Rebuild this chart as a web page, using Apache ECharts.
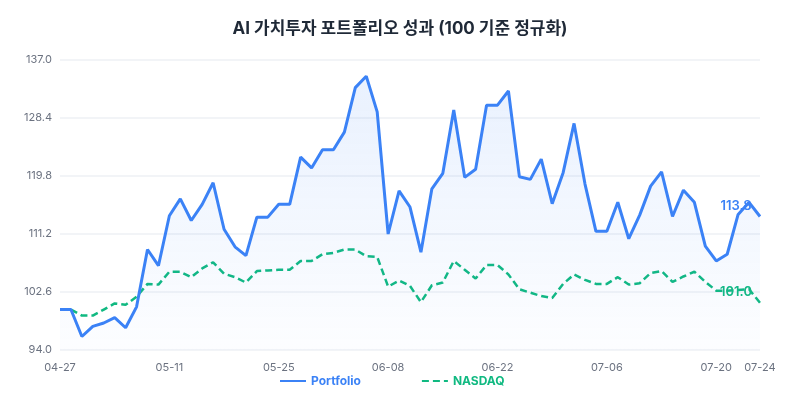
<!DOCTYPE html>
<html>
<head>
<meta charset="utf-8">
<script src="https://cdn.jsdelivr.net/npm/echarts@6/dist/echarts.min.js"></script>
<style>
  html, body { margin: 0; padding: 0; background: #fff; }
  #chart { width: 800px; height: 400px; }
</style>
</head>
<body>
<div id="chart"></div>
<script>
// 영업일 기준 날짜
const dates = [
  '04-27', '04-28', '04-29', '04-30', '05-01',
  '05-04', '05-05', '05-06', '05-07', '05-08',
  '05-11', '05-12', '05-13', '05-14', '05-15',
  '05-18', '05-19', '05-20', '05-21', '05-22',
  '05-25', '05-26', '05-27', '05-28', '05-29',
  '06-01', '06-02', '06-03', '06-04', '06-05',
  '06-08', '06-09', '06-10', '06-11', '06-12',
  '06-15', '06-16', '06-17', '06-18', '06-19',
  '06-22', '06-23', '06-24', '06-25', '06-26',
  '06-29', '06-30', '07-01', '07-02', '07-03',
  '07-06', '07-07', '07-08', '07-09', '07-10',
  '07-13', '07-14', '07-15', '07-16', '07-17',
  '07-20', '07-21', '07-22', '07-23', '07-24'
]

const portfolio = [
  100.0, 100.0, 96.0, 97.5, 98.0, 98.8, 97.3, 100.4, 108.9, 106.5,
  113.9, 116.4, 113.2, 115.6, 118.8, 111.9, 109.3, 108.0, 113.7, 113.7,
  115.6, 115.6, 122.6, 121.0, 123.7, 123.7, 126.3, 132.9, 134.6, 129.3,
  111.2, 117.6, 115.2, 108.5, 117.9, 120.2, 129.6, 119.6, 120.8, 130.3,
  130.3, 132.4, 119.7, 119.3, 122.3, 115.7, 120.3, 127.6, 118.6, 111.6,
  111.6, 115.9, 110.5, 114.0, 118.3, 120.4, 113.8, 117.7, 115.9, 109.4,
  107.2, 108.2, 114.1, 115.9, 113.8
]

const nasdaq = [
  100.0, 100.0, 99.1, 99.1, 100.0, 100.9, 100.7, 101.9, 103.8, 103.7,
  105.6, 105.6, 104.8, 106.1, 107.0, 105.3, 104.8, 104.0, 105.7, 105.8,
  105.9, 105.9, 107.2, 107.2, 108.2, 108.4, 108.9, 108.9, 107.9, 107.8,
  103.4, 104.3, 103.5, 101.1, 103.6, 104.0, 107.2, 105.9, 104.6, 106.6,
  106.6, 105.2, 103.0, 102.5, 102.0, 101.7, 103.8, 105.2, 104.4, 103.8,
  103.8, 104.8, 103.7, 103.9, 105.4, 105.7, 104.1, 104.9, 105.6, 104.1,
  102.8, 102.8, 102.9, 103.0, 101.0
]

const yMin = 94.0
const yMax = 137.0
const yStep = 8.6

const BLUE = '#3b82f6'
const GREEN = '#10b981'
const FONT = 'Inter, "Noto Sans CJK KR", sans-serif'

// 마지막 점에만 값 라벨 표시 (나머지는 심볼 없음)
function withLastLabel(arr, color) {
  const last = arr.length - 1
  return arr.map((v, i) => i !== last ? v : {
    value: v,
    symbol: 'circle',
    symbolSize: 0.1,
    label: {
      show: true,
      position: 'top',
      distance: 4,
      offset: [-24, 0],
      color: color,
      fontSize: 13,
      fontWeight: 600,
      fontFamily: FONT,
      formatter: p => p.value.toFixed(1)
    }
  })
}

const chart = echarts.init(document.getElementById('chart'))
chart.setOption({
  animation: false,
  title: {
    text: 'AI 가치투자 포트폴리오 성과 (100 기준 정규화)',
    left: 'center',
    top: 15,
    textStyle: { fontSize: 17, fontWeight: 'bold', color: '#1f2937', fontFamily: FONT }
  },
  grid: { left: 60, right: 40, top: 60, bottom: 50 },
  legend: {
    left: 274,
    bottom: 8,
    itemWidth: 26,
    itemHeight: 10,
    itemGap: 60,
    itemStyle: { opacity: 0 },
    textStyle: { fontSize: 12, fontWeight: 'bold', fontFamily: FONT },
    data: [
      { name: 'Portfolio', textStyle: { color: BLUE } },
      { name: 'NASDAQ', textStyle: { color: GREEN } }
    ]
  },
  xAxis: {
    type: 'category',
    data: dates,
    boundaryGap: false,
    axisLine: { show: false },
    axisTick: { show: false },
    axisLabel: {
      color: '#6b7280',
      fontSize: 11,
      fontFamily: FONT,
      margin: 12,
      interval: (idx) => idx % 10 === 0 || idx === dates.length - 1
    }
  },
  yAxis: {
    type: 'value',
    min: yMin,
    max: yMax,
    interval: yStep,
    axisLine: { show: false },
    axisTick: { show: false },
    axisLabel: {
      color: '#6b7280',
      fontSize: 11,
      fontFamily: FONT,
      formatter: v => v.toFixed(1)
    },
    splitLine: { lineStyle: { color: '#eef0f4', width: 1.5 } }
  },
  series: [
    {
      name: 'Portfolio',
      type: 'line',
      data: withLastLabel(portfolio, BLUE),
      symbol: 'none',
      showSymbol: true,
      lineStyle: { color: BLUE, width: 3 },
      itemStyle: { color: BLUE },
      areaStyle: {
        color: new echarts.graphic.LinearGradient(0, 0, 0, 1, [
          { offset: 0, color: 'rgba(59,130,246,0.16)' },
          { offset: 1, color: 'rgba(59,130,246,0.02)' }
        ])
      },
      z: 3
    },
    {
      name: 'NASDAQ',
      type: 'line',
      data: withLastLabel(nasdaq, GREEN),
      symbol: 'none',
      showSymbol: true,
      lineStyle: { color: GREEN, width: 2.5, type: [7, 4] },
      itemStyle: { color: GREEN },
      z: 2
    }
  ]
})
</script>
</body>
</html>
